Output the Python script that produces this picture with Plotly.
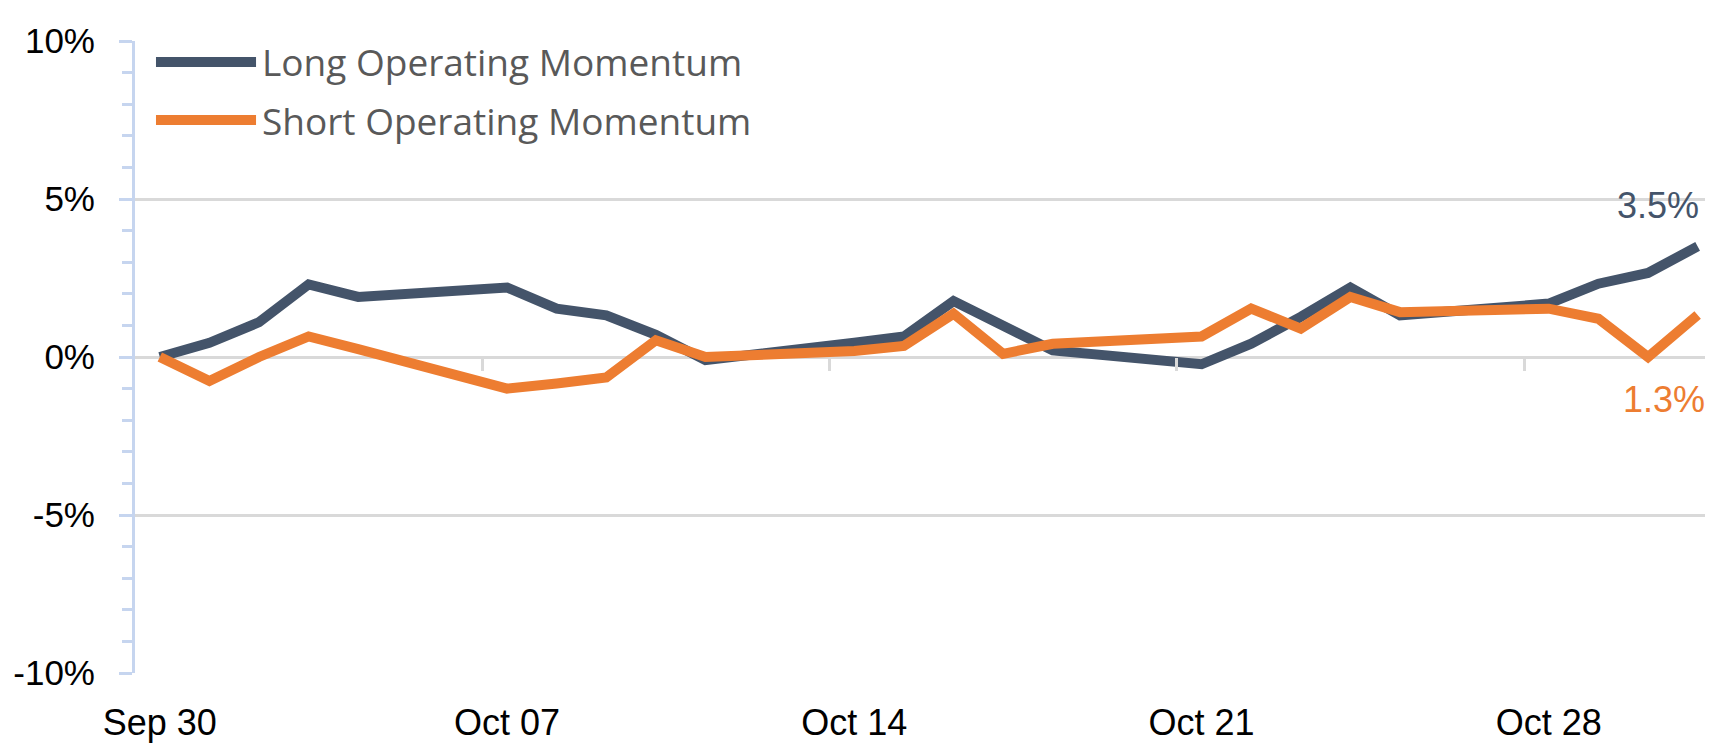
import plotly.graph_objects as go

# ---- data ----
dates = ["2024-09-30", "2024-10-01", "2024-10-02", "2024-10-03", "2024-10-04",
         "2024-10-07", "2024-10-08", "2024-10-09", "2024-10-10", "2024-10-11",
         "2024-10-14", "2024-10-15", "2024-10-16", "2024-10-17", "2024-10-18",
         "2024-10-21", "2024-10-22", "2024-10-23", "2024-10-24", "2024-10-25",
         "2024-10-28", "2024-10-29", "2024-10-30", "2024-10-31"]
long_momentum = [0.0, 0.45, 1.1, 2.3, 1.9,
                 2.2, 1.53, 1.32, 0.7, -0.1,
                 0.45, 0.65, 1.77, 0.95, 0.21,
                 -0.23, 0.42, 1.27, 2.2, 1.32,
                 1.69, 2.32, 2.66, 3.5]
short_momentum = [0.0, -0.76, 0.0, 0.65, 0.25,
                  -1.0, -0.84, -0.65, 0.53, 0.0,
                  0.19, 0.35, 1.37, 0.1, 0.42,
                  0.65, 1.53, 0.9, 1.9, 1.42,
                  1.53, 1.21, 0.0, 1.33]
series_names = ["Long Operating Momentum", "Short Operating Momentum"]
x_tick_dates = ["2024-09-30", "2024-10-07", "2024-10-14", "2024-10-21", "2024-10-28"]
x_tick_labels = ["Sep 30", "Oct 07", "Oct 14", "Oct 21", "Oct 28"]
x_boundary_ticks = ["2024-10-06 12:00", "2024-10-13 12:00", "2024-10-20 12:00", "2024-10-27 12:00"]
y_tick_vals = [-10, -5, 0, 5, 10]
y_tick_labels = ["-10%", "-5%", "0%", "5%", "10%"]

# ---- styles ----
LONG_COLOR = "#44546A"
SHORT_COLOR = "#ED7D31"
GRID = "#D9D9D9"
AXIS_BLUE = "#C6D5EF"
NARROW = "Liberation Sans Narrow, Arial Narrow, Liberation Sans, Arial, sans-serif"
X_RANGE = ["2024-09-29 12:00", "2024-10-31 07:26"]

fig = go.Figure()
fig.add_trace(go.Scatter(x=dates, y=long_momentum, mode="lines", name=series_names[0],
                         line=dict(color=LONG_COLOR, width=10), showlegend=False))
# short series drawn on the overlaying axis (same range) that carries the boundary tick marks
fig.add_trace(go.Scatter(x=dates, y=short_momentum, mode="lines", name=series_names[1],
                         xaxis="x2", yaxis="y",
                         line=dict(color=SHORT_COLOR, width=10), showlegend=False))

# manual legend (long line samples like the original)
legend_rows = [(series_names[0], LONG_COLOR, 0.9668), (series_names[1], SHORT_COLOR, 0.8750)]
for name, color, yp in legend_rows:
    fig.add_shape(type="line", xref="paper", yref="paper", x0=0.0133, x1=0.0767, y0=yp, y1=yp,
                  line=dict(color=color, width=10))
    fig.add_annotation(xref="paper", yref="paper", x=0.0795, y=yp, text=name, showarrow=False,
                       xanchor="left", yanchor="middle",
                       font=dict(family="Open Sans", size=37, color="#595959"))

# end labels
fig.add_annotation(x=dates[-1], y=long_momentum[-1], text=f"{long_momentum[-1]:.1f}%",
                   showarrow=False, xshift=-40, yshift=41,
                   font=dict(family=NARROW, size=36, color=LONG_COLOR))
fig.add_annotation(x=dates[-1], y=short_momentum[-1], text=f"{short_momentum[-1]:.1f}%",
                   showarrow=False, xshift=-34, yshift=-85,
                   font=dict(family=NARROW, size=36, color=SHORT_COLOR))

# the page body adds an 8px offset, so the figure is 8px smaller and margins compensate
fig.update_layout(
    width=1705, height=740,
    margin=dict(l=127, r=0, t=33, b=75, autoexpand=False),
    paper_bgcolor="white", plot_bgcolor="white",
    showlegend=False,
    xaxis=dict(type="date", range=X_RANGE, tickmode="array", tickvals=x_tick_dates,
               ticktext=x_tick_labels, ticks="", showgrid=False, zeroline=False,
               showline=False, ticklabelstandoff=25, automargin=False,
               tickfont=dict(family=NARROW, size=36, color="black")),
    xaxis2=dict(type="date", range=X_RANGE, overlaying="x", anchor="free", position=0.5,
                side="bottom", tickmode="array", tickvals=x_boundary_ticks,
                ticks="outside", ticklen=13, tickwidth=3, tickcolor=GRID, automargin=False,
                showticklabels=False, showgrid=False, zeroline=False, showline=False),
    yaxis=dict(range=[-10, 10], tickmode="array", tickvals=y_tick_vals, ticktext=y_tick_labels,
               showgrid=True, gridcolor=GRID, gridwidth=3, zeroline=False,
               showline=True, linecolor=AXIS_BLUE, linewidth=3, automargin=False,
               ticks="outside", ticklen=13, tickwidth=3, tickcolor=AXIS_BLUE,
               minor=dict(dtick=1, tick0=0, ticks="outside", ticklen=10, tickwidth=3,
                          tickcolor=AXIS_BLUE, showgrid=False),
               ticklabelstandoff=17,
               tickfont=dict(family=NARROW, size=35, color="black")),
)

fig.write_html("out.html")
